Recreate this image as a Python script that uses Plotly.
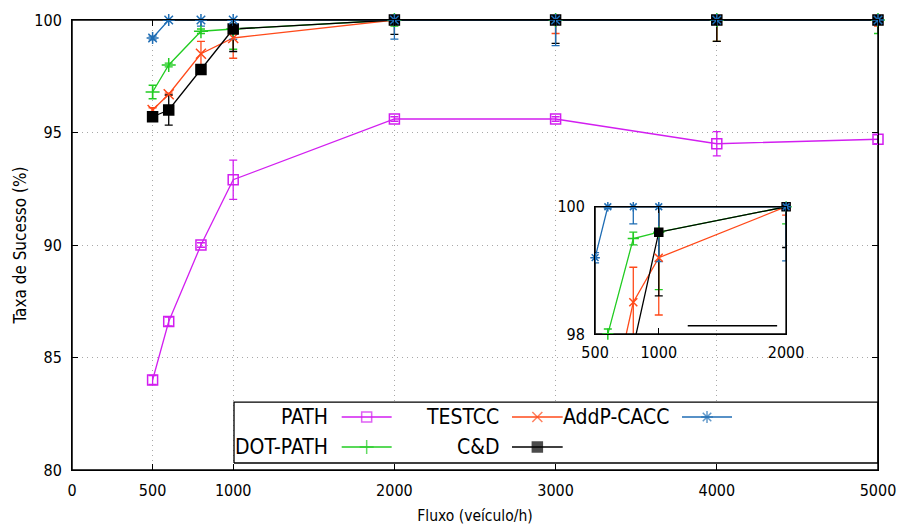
import plotly.graph_objects as go

# ---------------- data ----------------
fluxo = [500, 600, 800, 1000, 2000, 3000, 4000, 5000]

path_y   = [84.0, 86.6, 90.0, 92.9, 95.6, 95.6, 94.5, 94.7]
path_err = [0.2, 0.2, 0.1, 0.87, 0.1, 0.1, 0.54, 0.2]

dot_y    = [96.8, 98.0, 99.5, 99.6, 100, 100, 100, 100]
dot_err  = [0.3, 0.08, 0.1, 0.9, 0.27, 0.05, 0.95, 0.6]

testcc_y   = [96.0, 96.7, 98.5, 99.2, 100, 100, 100, 100]
testcc_err = [0.1, 0.05, 0.55, 0.9, 0.13, 0.6, 0.95, 0.27]

cd_y   = [95.7, 96.0, 97.8, 99.6, 100, 100, 100, 100]
cd_err = [0.1, 0.67, 0.1, 1.0, 0.64, 1.04, 0.95, 0.0]

addp_y   = [99.2, 100, 100, 100, 100, 100, 100, 100]
addp_err = [0.08, 0.02, 0.27, 0.86, 0.85, 1.14, 0.0, 0.0]

x_ticks = [0, 500, 1000, 2000, 3000, 4000, 5000]
y_ticks = [80, 85, 90, 95, 100]
inset_x_ticks = [500, 1000, 2000]
inset_y_ticks = [98, 100]

X_RANGE = [0, 5000]
Y_RANGE = [80, 100]
INSET_X_RANGE = [500, 2000]
INSET_Y_RANGE = [98, 100]

FONT = "DejaVu Sans Condensed, Liberation Sans Narrow, DejaVu Sans, sans-serif"

series = [
    dict(name="PATH", y=path_y, e=path_err, color="#d21ef0",
         symbol="square-open", size=10),
    dict(name="DOT-PATH", y=dot_y, e=dot_err, color="#22cc22",
         symbol="cross-thin-open", size=10),
    dict(name="TESTCC", y=testcc_y, e=testcc_err, color="#ff4a1a",
         symbol="x-thin-open", size=10),
    dict(name="C&D", y=cd_y, e=cd_err, color="#000000",
         symbol="square", size=10),
    dict(name="AddP-CACC", y=addp_y, e=addp_err, color="#1f6db4",
         symbol="asterisk-open", size=10),
]

fig = go.Figure()


def add_lines(xa, ya):
    for s in series:
        fig.add_trace(go.Scatter(
            x=fluxo, y=s["y"], mode="lines", name=s["name"],
            xaxis=xa, yaxis=ya, showlegend=False, hoverinfo="skip",
            line=dict(color=s["color"], width=1.3),
            error_y=dict(type="data", array=s["e"], visible=True,
                         color=s["color"], thickness=1.3, width=4),
        ))


def add_markers(xa, ya, ylim, dsize):
    for s in series:
        pts = [(x, y) for x, y in zip(fluxo, s["y"]) if ylim[0] <= y <= ylim[1]]
        fig.add_trace(go.Scatter(
            x=[p[0] for p in pts], y=[p[1] for p in pts], mode="markers",
            name=s["name"], xaxis=xa, yaxis=ya, showlegend=False,
            cliponaxis=False,
            marker=dict(symbol=s["symbol"], size=s["size"] + dsize,
                        color=s["color"],
                        line=dict(color=s["color"], width=1.5)),
        ))


# ---- main panel lines / error bars
add_lines("x", "y")

# ---- key (gnuplot-like) and main frame on overlay axes with 0..1 range
key_box = dict(x0=0.201, x1=1.0, y0=0.0156, y1=0.151)
fig.add_trace(go.Scatter(
    x=[key_box["x0"], key_box["x1"], key_box["x1"], key_box["x0"], key_box["x0"]],
    y=[key_box["y0"], key_box["y0"], key_box["y1"], key_box["y1"], key_box["y0"]],
    xaxis="x3", yaxis="y3", mode="lines", fill="toself",
    fillcolor="white", line=dict(color="black", width=1.3),
    showlegend=False, hoverinfo="skip"))

key_cols = [(0.3201, 0.3346, 0.3966), (0.5319, 0.5459, 0.6088), (0.7428, 0.7568, 0.8189)]
key_rows = [0.1178, 0.0511]
key_slots = [(0, 0), (0, 1), (1, 0), (1, 1), (2, 0)]
annotations = []
for s, (c, r) in zip(series, key_slots):
    tx, l0, l1 = key_cols[c]
    ry = key_rows[r]
    fig.add_trace(go.Scatter(
        x=[l0, (l0 + l1) / 2, l1], y=[ry, ry, ry], xaxis="x3", yaxis="y3",
        mode="lines+markers", showlegend=False, hoverinfo="skip",
        line=dict(color=s["color"], width=1.3),
        marker=dict(symbol=s["symbol"], size=[0, s["size"], 0], color=s["color"],
                    line=dict(color=s["color"], width=1.5))))
    annotations.append(dict(x=tx, y=ry, xref="paper", yref="paper",
                            text=s["name"], showarrow=False, xanchor="right",
                            yanchor="middle",
                            font=dict(family=FONT, size=21, color="black")))

frame = dict(x=[0, 1, 1, 0, 0], y=[0, 0, 1, 1, 0])
fig.add_trace(go.Scatter(x=frame["x"], y=frame["y"], xaxis="x3", yaxis="y3",
                         mode="lines", line=dict(color="black", width=1.5),
                         cliponaxis=False, showlegend=False, hoverinfo="skip"))

# ---- main markers drawn over the frame (like gnuplot points)
add_markers("x4", "y4", Y_RANGE, 0)

# ---- inset
add_lines("x2", "y2")
fig.add_trace(go.Scatter(x=frame["x"], y=frame["y"], xaxis="x5", yaxis="y5",
                         mode="lines", line=dict(color="black", width=1.5),
                         cliponaxis=False, showlegend=False, hoverinfo="skip"))
add_markers("x6", "y6", INSET_Y_RANGE, -2)

axis_common = dict(showline=True, linecolor="black", linewidth=1, mirror="allticks",
                   ticks="inside", ticklen=6, tickcolor="black", tickwidth=1,
                   zeroline=False, automargin=False,
                   tickfont=dict(family=FONT, size=16, color="black"))

GRID = dict(showgrid=True, gridcolor="#a8a8a8", griddash="1px,4px", gridwidth=1)
HIDDEN = dict(visible=False, showgrid=False, zeroline=False)

fig.update_layout(
    width=898, height=527,
    margin=dict(l=72, r=20, t=20, b=57),
    paper_bgcolor="white", plot_bgcolor="rgba(0,0,0,0)",
    annotations=annotations,
    shapes=[dict(type="line", xref="x2 domain", yref="y2 domain",
                 x0=0.485, x1=0.953, y0=0.065, y1=0.065,
                 line=dict(color="black", width=1.5))],
    xaxis=dict(range=X_RANGE, tickvals=x_ticks,
               title=dict(text="Fluxo (veículo/h)", standoff=10,
                          font=dict(family=FONT, size=15.5, color="black")),
               ticklabelstandoff=6, **GRID, **axis_common),
    yaxis=dict(range=Y_RANGE, tickvals=y_ticks,
               title=dict(text="Taxa de Sucesso (%)", standoff=3,
                          font=dict(family=FONT, size=17, color="black")),
               ticklabelstandoff=6, **GRID, **axis_common),
    xaxis2=dict(domain=[0.649, 0.886], anchor="y2", range=INSET_X_RANGE,
                tickvals=inset_x_ticks, showgrid=False, ticklabelstandoff=4,
                **axis_common),
    yaxis2=dict(domain=[0.302, 0.585], anchor="x2", range=INSET_Y_RANGE,
                tickvals=inset_y_ticks, showgrid=False, ticklabelstandoff=6,
                **axis_common),
    xaxis3=dict(overlaying="x", range=[0, 1], **HIDDEN),
    yaxis3=dict(overlaying="y", range=[0, 1], **HIDDEN),
    xaxis4=dict(overlaying="x", range=X_RANGE, **HIDDEN),
    yaxis4=dict(overlaying="y", range=Y_RANGE, **HIDDEN),
    xaxis5=dict(overlaying="x2", range=[0, 1], **HIDDEN),
    yaxis5=dict(overlaying="y2", range=[0, 1], **HIDDEN),
    xaxis6=dict(overlaying="x2", range=INSET_X_RANGE, **HIDDEN),
    yaxis6=dict(overlaying="y2", range=INSET_Y_RANGE, **HIDDEN),
)

fig.write_html("out.html")
